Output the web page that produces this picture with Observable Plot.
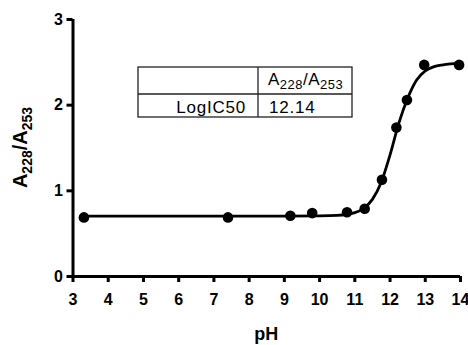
<!DOCTYPE html>
<html><head><meta charset="utf-8">
<script src="https://cdn.jsdelivr.net/npm/d3@7"></script>
<script src="https://cdn.jsdelivr.net/npm/@observablehq/plot@0.6"></script>
<style>
body{margin:0;background:#fff}
#chart{position:relative;width:468px;height:345px}
</style>
</head><body><div id="chart"></div>
<script>
// measured points
const pH    = [3.31, 7.40, 9.17, 9.79, 10.78, 11.28, 11.77, 12.18, 12.48, 12.97, 13.96];
const ratio = [0.69, 0.69, 0.71, 0.74, 0.75, 0.79, 1.13, 1.74, 2.06, 2.47, 2.47];
// fitted curve
const fitPH    = [3.31, 9.0, 10.0, 10.5, 11.0, 11.25, 11.5, 11.75, 12.0, 12.25, 12.5, 12.75, 13.0, 13.25, 13.5, 14.0];
const fitRatio = [0.705, 0.705, 0.707, 0.713, 0.745, 0.795, 0.90, 1.10, 1.42, 1.79, 2.08, 2.29, 2.40, 2.45, 2.47, 2.49];
const xTicks = [3, 4, 5, 6, 7, 8, 9, 10, 11, 12, 13, 14];
const yTicks = [0, 1, 2, 3];
const tableRowLabel = "LogIC50";
const tableValue = "12.14";

const points = pH.map((x, i) => ({x, y: ratio[i]}));
const fit = fitPH.map((x, i) => ({x, y: fitRatio[i]}));

const font = "'Liberation Sans', Arial, Helvetica, sans-serif";
const plot = Plot.plot({
  width: 468, height: 345,
  marginLeft: 72.5, marginRight: 8, marginTop: 19, marginBottom: 69,
  x: {domain: [3, 14]},
  y: {domain: [0, 3]},
  style: {fontFamily: font, fontSize: "16px", fontWeight: "bold", color: "#000", background: "#fff"},
  marks: [
    Plot.axisX({ticks: xTicks, tickFormat: "d", tickSize: 6, tickPadding: 11, strokeWidth: 3, label: null, fontSize: 16, fontWeight: "bold"}),
    Plot.axisY({ticks: yTicks, tickFormat: "d", tickSize: 6, tickPadding: 4, strokeWidth: 3, label: null, fontSize: 16, fontWeight: "bold"}),
    Plot.ruleY([0], {strokeWidth: 3, stroke: "#000"}),
    Plot.ruleX([3], {strokeWidth: 3, stroke: "#000"}),
    Plot.line(fit, {x: "x", y: "y", curve: "monotone-x", stroke: "#000", strokeWidth: 2.8}),
    Plot.dot(points, {x: "x", y: "y", r: 5.3, fill: "#000", stroke: "none"})
  ]
});
document.getElementById("chart").appendChild(plot);

const svg = d3.select(plot);
const sx = plot.scale("x"), sy = plot.scale("y");
const xMid = (sx.range[0] + sx.range[1]) / 2;
const yMid = (sy.range[0] + sy.range[1]) / 2;

// x axis title
svg.append("text").attr("x", xMid).attr("y", 340).attr("text-anchor", "middle")
  .attr("font-family", font).attr("font-weight", "bold").attr("font-size", 18).text("pH");

// y axis title with subscripts
function ratioText(sel, big, small, shift) {
  sel.append("tspan").attr("font-size", big).text("A");
  sel.append("tspan").attr("font-size", small).attr("dy", shift).text("228");
  sel.append("tspan").attr("font-size", big).attr("dy", -shift).text("/A");
  sel.append("tspan").attr("font-size", small).attr("dy", shift).text("253");
}
const yl = svg.append("text").attr("transform", `translate(27,${yMid}) rotate(-90)`)
  .attr("text-anchor", "middle").attr("font-family", font).attr("font-weight", "bold");
ratioText(yl, 20, 14, 5);

// table
const g = svg.append("g").attr("font-family", font).attr("font-weight", "normal")
  .attr("text-anchor", "start").attr("fill", "#000");
g.append("rect").attr("x", 138).attr("y", 67).attr("width", 214).attr("height", 50)
  .attr("fill", "#fff").attr("stroke", "#222").attr("stroke-width", 1.3);
g.append("line").attr("x1", 138).attr("x2", 352).attr("y1", 94).attr("y2", 94).attr("stroke", "#222").attr("stroke-width", 1.3);
g.append("line").attr("x1", 258).attr("x2", 258).attr("y1", 67).attr("y2", 117).attr("stroke", "#222").attr("stroke-width", 1.3);
const hdr = g.append("text").attr("x", 268).attr("y", 84.5).attr("text-anchor", "start").attr("letter-spacing", 0.5);
ratioText(hdr, 17, 13, 4);
g.append("text").attr("x", 246).attr("y", 113).attr("text-anchor", "end").attr("font-size", 17)
  .attr("letter-spacing", 0.8).text(tableRowLabel);
g.append("text").attr("x", 269).attr("y", 113).attr("text-anchor", "start").attr("font-size", 17)
  .attr("letter-spacing", 0.8).text(tableValue);
</script>
</body></html>
